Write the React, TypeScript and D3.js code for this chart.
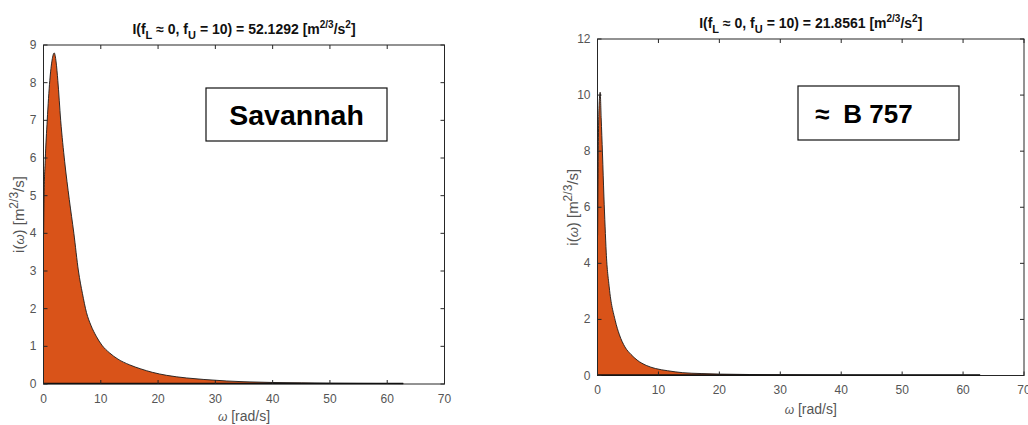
import React from "react";
import * as d3 from "d3";

// ---- data ----
const leftOmega = [0.02, 0.1, 0.3, 0.65, 1.1, 1.5, 1.87, 2.2, 2.5, 3.0, 3.7, 4.5, 5.3, 6.1, 6.8, 7.5, 8.3, 9.2, 10.2, 11.5, 13, 15, 17, 19, 21.5, 25, 28, 32, 35, 40, 45, 50, 55, 62.8];
const leftIntensity = [4.0, 5.0, 5.94, 7.0, 8.06, 8.6, 8.79, 8.55, 8.06, 7.0, 5.9, 4.9, 4.0, 3.0, 2.4, 1.9, 1.55, 1.27, 1.03, 0.83, 0.66, 0.51, 0.4, 0.31, 0.23, 0.16, 0.12, 0.08, 0.06, 0.04, 0.03, 0.02, 0.015, 0.01];

const rightOmega = [0.02, 0.15, 0.3, 0.44, 0.6, 0.82, 1.05, 1.25, 1.43, 1.92, 2.9, 3.6, 4.5, 5.5, 6.5, 8, 9.5, 11.5, 14, 17, 20, 25, 30, 40, 50, 62.8];
const rightIntensity = [5.0, 8.5, 9.8, 10.1, 9.2, 7.9, 6.4, 5.3, 4.4, 3.16, 1.97, 1.45, 1.02, 0.75, 0.55, 0.36, 0.25, 0.17, 0.1, 0.07, 0.05, 0.035, 0.025, 0.015, 0.01, 0.007];

const xTicks = [0, 10, 20, 30, 40, 50, 60, 70];
const leftYTicks = [0, 1, 2, 3, 4, 5, 6, 7, 8, 9];
const rightYTicks = [0, 2, 4, 6, 8, 10, 12];

const leftIntegral = "52.1292";
const rightIntegral = "21.8561";
const leftName = "Savannah";
const rightPrefix = "≈";
const rightName = "B 757";

const FONT = "'Liberation Sans', Arial, Helvetica, sans-serif";
const FILL = "#D95319";
const AXIS = "#262626";
const LABEL = "#555555";

type PanelProps = {
  omega: number[];
  values: number[];
  yTicks: number[];
  yMax: number;
  left: number;
  right: number;
  top: number;
  bottom: number;
  integral: string;
  titleY: number;
  prefix?: string;
  name: string;
  box: { x: number; y: number; w: number; h: number };
  xLabelY: number;
  tickLabelY: number;
  yLabelX: number;
};

function Panel(p: PanelProps) {
  const x = d3.scaleLinear().domain([0, 70]).range([p.left, p.right]);
  const y = d3.scaleLinear().domain([0, p.yMax]).range([p.bottom, p.top]);
  const pts: [number, number][] = p.omega.map((w, i) => [w, p.values[i]]);
  const area = d3
    .area<[number, number]>()
    .x((d) => x(d[0]))
    .y0(y(0))
    .y1((d) => y(d[1]))
    .curve(d3.curveMonotoneX);
  const line = d3
    .line<[number, number]>()
    .x((d) => x(d[0]))
    .y((d) => y(d[1]))
    .curve(d3.curveMonotoneX);
  const lastW = p.omega[p.omega.length - 1];
  const cx = (p.left + p.right) / 2;
  const cy = (p.top + p.bottom) / 2;
  const tl = 4;
  return (
    <g>
      <path d={area(pts) || ""} fill={FILL} stroke="none" />
      <path d={line(pts) || ""} fill="none" stroke="#1a1a1a" strokeWidth={0.9} />
      <line x1={x(0)} x2={x(0)} y1={y(0)} y2={y(p.values[0])} stroke="#1a1a1a" strokeWidth={0.9} />
      <rect x={p.left} y={p.top} width={p.right - p.left} height={p.bottom - p.top} fill="none" stroke={AXIS} strokeWidth={1} />
      <line x1={x(0)} x2={x(lastW)} y1={y(0) - 0.5} y2={y(0) - 0.5} stroke="#111" strokeWidth={1.3} />
      {xTicks.map((t) => (
        <g key={"x" + t}>
          <line x1={x(t)} x2={x(t)} y1={p.bottom} y2={p.bottom - tl} stroke={AXIS} />
          <line x1={x(t)} x2={x(t)} y1={p.top} y2={p.top + tl} stroke={AXIS} />
          <text x={x(t)} y={p.tickLabelY} textAnchor="middle" fontFamily={FONT} fontSize={12} fill={LABEL}>
            {t}
          </text>
        </g>
      ))}
      {p.yTicks.map((t) => (
        <g key={"y" + t}>
          <line x1={p.left} x2={p.left + tl} y1={y(t)} y2={y(t)} stroke={AXIS} />
          <line x1={p.right} x2={p.right - tl} y1={y(t)} y2={y(t)} stroke={AXIS} />
          <text x={p.left - 7} y={y(t) + 4} textAnchor="end" fontFamily={FONT} fontSize={12} fill={LABEL}>
            {t}
          </text>
        </g>
      ))}
      <text x={cx} y={p.titleY} textAnchor="middle" fontFamily={FONT} fontSize={14} fontWeight="bold" fill="#111">
        I(f<tspan fontSize={11} dy={5}>L</tspan>
        <tspan dy={-5}> ≈ 0, f</tspan>
        <tspan fontSize={11} dy={5}>U</tspan>
        <tspan dy={-5}> = 10) = {p.integral} [m</tspan>
        <tspan fontSize={10} dy={-6}>2/3</tspan>
        <tspan dy={6}>/s</tspan>
        <tspan fontSize={10} dy={-6}>2</tspan>
        <tspan dy={6}>]</tspan>
      </text>
      <text x={cx} y={p.xLabelY} textAnchor="middle" fontFamily={FONT} fontSize={14} fill={LABEL}>
        <tspan fontStyle="italic" fontSize={12}>ω</tspan> [rad/s]
      </text>
      <text transform={`translate(${p.yLabelX},${cy}) rotate(-90)`} textAnchor="middle" fontFamily={FONT} fontSize={15} fill={LABEL}>
        i(<tspan fontStyle="italic" fontSize={13}>ω</tspan>) [m
        <tspan fontSize={12} dy={-6}>2/3</tspan>
        <tspan dy={6}>/s]</tspan>
      </text>
      <rect x={p.box.x} y={p.box.y} width={p.box.w} height={p.box.h} fill="white" stroke="#111" strokeWidth={1.2} />
      {p.prefix ? (
        <text x={p.box.x + 17} y={p.box.y + p.box.h / 2 + 10} fontFamily={FONT} fontSize={26} fontWeight="bold" fill="#000">
          {p.prefix}
          <tspan dx={14}>{p.name}</tspan>
        </text>
      ) : (
        <text x={p.box.x + p.box.w / 2} y={p.box.y + p.box.h / 2 + 10} textAnchor="middle" fontFamily={FONT} fontSize={28.5} fontWeight="bold" fill="#000">
          {p.name}
        </text>
      )}
    </g>
  );
}

export default function App() {
  return (
    <svg width={1028} height={425} style={{ position: "absolute", left: 0, top: 0, background: "white" }}>
      <rect width={1028} height={425} fill="white" />
      <Panel
        omega={leftOmega}
        values={leftIntensity}
        yTicks={leftYTicks}
        yMax={9}
        left={43.5}
        right={444.5}
        top={45}
        bottom={384}
        integral={leftIntegral}
        titleY={34}
        name={leftName}
        box={{ x: 206, y: 88, w: 181, h: 53 }}
        xLabelY={421}
        tickLabelY={403}
        yLabelX={24}
      />
      <Panel
        omega={rightOmega}
        values={rightIntensity}
        yTicks={rightYTicks}
        yMax={12}
        left={597.5}
        right={1024}
        top={39}
        bottom={375.5}
        integral={rightIntegral}
        titleY={28}
        prefix={rightPrefix}
        name={rightName}
        box={{ x: 798, y: 86, w: 161, h: 54 }}
        xLabelY={414}
        tickLabelY={394}
        yLabelX={578}
      />
    </svg>
  );
}
